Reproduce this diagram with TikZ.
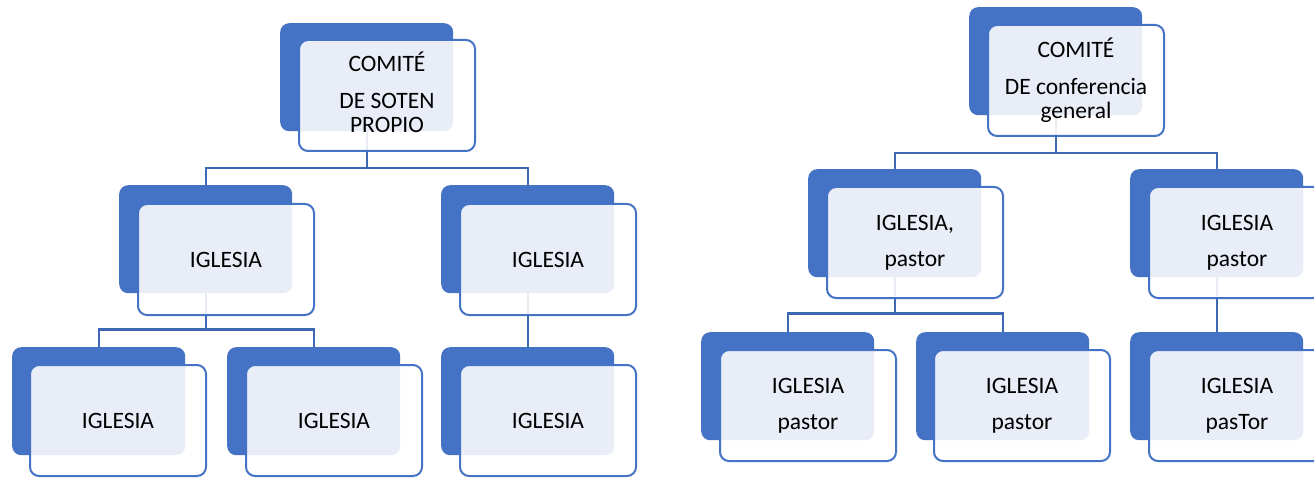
\documentclass[tikz,border=0pt]{standalone}
\usepackage{fontspec}
\setmainfont{Carlito}
\usetikzlibrary{calc}
\pgfdeclarelayer{bg}
\pgfsetlayers{bg,main}
\definecolor{bblue}{HTML}{4472C4}
\definecolor{cblue}{HTML}{3E68B4}
\tikzset{
  backbox/.style={draw=none, fill=bblue, rounded corners=9pt, minimum width=173pt, minimum height=108pt, inner sep=0pt, anchor=north west},
  frontbox/.style={draw=bblue, line width=2pt, fill=white, fill opacity=0.88, text opacity=1, rounded corners=9pt, minimum width=176pt, minimum height=111pt, inner sep=0pt, anchor=north west, align=center, font=\fontsize{23.5}{24}\selectfont},
  conn/.style={draw=cblue, line width=2.2pt}
}
\begin{document}
\begin{tikzpicture}[x=1pt,y=-1pt]
\useasboundingbox (0,0) rectangle (1314,481);
\clip (0,0) rectangle (1314,481);
% left chart
\node[backbox] (T1b) at (280,23) {};
\node[frontbox] (T1) at (298,39) {COMITÉ\\[13pt]DE SOTEN\\PROPIO\\[-18pt]\mbox{}};
\node[backbox] (M1b) at (119,185) {};
\node[frontbox] (M1) at (137,203) {IGLESIA};
\node[backbox] (M2b) at (441,185) {};
\node[frontbox] (M2) at (459,203) {IGLESIA};
\node[backbox] (B1b) at (12,347) {};
\node[frontbox] (B1) at (29,364) {IGLESIA};
\node[backbox] (B2b) at (227,347) {};
\node[frontbox] (B2) at (245,364) {IGLESIA};
\node[backbox] (B3b) at (441,347) {};
\node[frontbox] (B3) at (459,364) {IGLESIA};
% right chart
\node[backbox] (T2b) at (969,7) {};
\node[frontbox] (T2) at (987,24) {COMITÉ\\[13pt]DE conferencia\\general};
\node[backbox] (M3b) at (808,169) {};
\node[frontbox] (M3) at (826,186) {IGLESIA,\\[12pt]pastor};
\node[backbox] (M4b) at (1130,169) {};
\node[frontbox] (M4) at (1148,186) {IGLESIA\\[12pt]pastor};
\node[backbox] (B4b) at (701,332) {};
\node[frontbox] (B4) at (719,349) {IGLESIA\\[12pt]pastor};
\node[backbox] (B5b) at (916,332) {};
\node[frontbox] (B5) at (933,349) {IGLESIA\\[12pt]pastor};
\node[backbox] (B6b) at (1130,332) {};
\node[frontbox] (B6) at (1148,349) {IGLESIA\\[12pt]pasTor};
\begin{pgfonlayer}{bg}
\fill[white] (0,0) rectangle (1314,481);
\coordinate (j1) at ($(T1b.south)+(0,37)$);
\coordinate (j2) at ($(M1b.south)+(0,36)$);
\coordinate (j3) at ($(T2b.south)+(0,38)$);
\coordinate (j4) at ($(M3b.south)+(0,36)$);
\draw[conn] (T1b.south) -- (j1);
\draw[conn] (M1b.north) |- (j1) -| (M2b.north);
\draw[conn] (M1b.south) -- (j2);
\draw[conn] (B1b.north) |- (j2) -| (B2b.north);
\draw[conn] (M2b.south) -- (B3b.north);
\draw[conn] (T2b.south) -- (j3);
\draw[conn] (M3b.north) |- (j3) -| (M4b.north);
\draw[conn] (M3b.south) -- (j4);
\draw[conn] (B4b.north) |- (j4) -| (B5b.north);
\draw[conn] (M4b.south) -- (B6b.north);
\end{pgfonlayer}
\end{tikzpicture}
\end{document}
